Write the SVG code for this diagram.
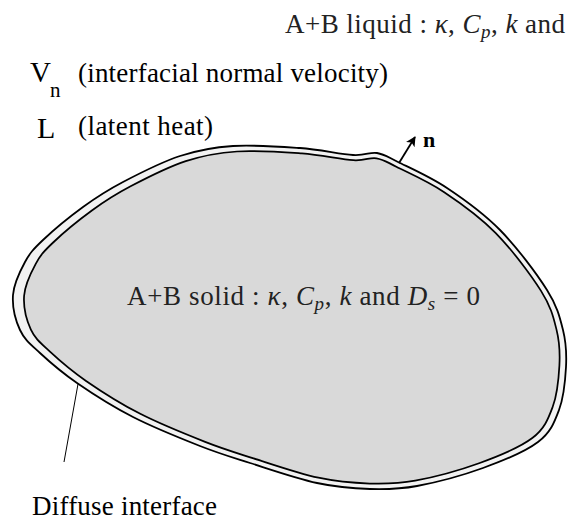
<svg xmlns="http://www.w3.org/2000/svg" xmlns:xlink="http://www.w3.org/1999/xlink" width="570" height="521" viewBox="0 0 570 521">
<style>
.band{fill:#f2f2f2;stroke:#000;stroke-width:1.8;}
.core{fill:#d9d9d9;stroke:#000;stroke-width:1.8;}
text{font-family:'Liberation Serif','Times New Roman',serif;}
.tex{fill:#222;font-size:27px;}
.times{fill:#000;}
.it{font-style:italic;}
.sub{font-style:italic;font-size:19px;}
.conn{stroke:#000;fill:none;}
</style>
<defs>
<path id="blob" d="M233,146 C253,144.7 280.5,146.7 300,148 C320,149.5 340.2,154.2 353,155 C365.8,155.8 369.5,151.8 377,153 C384.5,154.2 386.3,156.2 398,162 C409.7,167.8 430,176.7 447,188 C464,199.3 483.3,213 500,230 C516.7,247 536.5,273.3 547,290 C557.5,306.7 559.8,317.2 563,330 C566.2,342.8 566.7,353.7 566,367 C565.3,380.3 563.7,397.5 559,410 C554.3,422.5 550.7,432.3 538,442 C525.3,451.7 503.2,460.7 483,468 C462.8,475.3 435.8,482.5 417,486 C398.2,489.5 386.7,489.5 370,489 C353.3,488.5 337,487.3 317,483 C297,478.7 269.5,469.2 250,463 C230.5,456.8 219.5,453.7 200,446 C180.5,438.3 153.5,427.5 133,417 C112.5,406.5 92.5,393.7 77,383 C61.5,372.3 49.5,361.8 40,353 C30.5,344.2 24.5,339.7 20,330 C15.5,320.3 12.2,306.3 13,295 C13.8,283.7 20,271.2 25,262 C30,252.8 33.3,249.2 43,240 C52.7,230.8 69.7,216.7 83,207 C96.3,197.3 106.8,190.5 123,182 C139.2,173.5 161.7,162 180,156 C198.3,150 213,147.3 233,146 Z"/>
<marker id="ah" viewBox="0 0 10 10" refX="9" refY="5" markerWidth="10" markerHeight="10" markerUnits="userSpaceOnUse" orient="auto">
<path d="M0,0 L10,5 L0,10 L2.5,5 Z" fill="#000"/>
</marker>
</defs>
<g id="diffuse-interface">
<use xlink:href="#blob" class="band"/>
</g>
<g id="solid">
<use xlink:href="#blob" class="core" transform="translate(360 318) scale(0.968) translate(-360 -318)"/>
</g>
<g id="connectors">
<line class="conn" x1="399" y1="163" x2="415" y2="137" stroke-width="1.8" marker-end="url(#ah)"/>
<line class="conn" x1="78" y1="384" x2="64" y2="462" stroke-width="1"/>
</g>
<g id="liquid-label">
<text class="tex" x="285" y="33" textLength="280" lengthAdjust="spacing">A+B liquid : <tspan class="it">κ</tspan>, <tspan class="it">C</tspan><tspan class="sub" dy="5">p</tspan><tspan dy="-5">, </tspan><tspan class="it">k</tspan> and</text>
</g>
<g id="solid-label">
<text class="tex" x="127" y="305" textLength="353" lengthAdjust="spacing">A+B solid : <tspan class="it">κ</tspan>, <tspan class="it">C</tspan><tspan class="sub" dy="5">p</tspan><tspan dy="-5">, </tspan><tspan class="it">k</tspan> and <tspan class="it">D</tspan><tspan class="sub" dy="5">s</tspan><tspan dy="-5"> = 0</tspan></text>
</g>
<g id="vn-label">
<text class="times" x="30" y="82" font-size="29">V</text>
<text class="times" x="50" y="97" font-size="21">n</text>
<text class="times" x="78" y="82" font-size="27" textLength="310" lengthAdjust="spacing">(interfacial normal velocity)</text>
</g>
<g id="l-label">
<text class="times" x="37" y="138" font-size="30">L</text>
<text class="times" x="78" y="135" font-size="27" textLength="135" lengthAdjust="spacing">(latent heat)</text>
</g>
<g id="n-label">
<text class="times" x="423" y="147" font-size="22" font-weight="bold">n</text>
</g>
<g id="diffuse-label">
<text class="times" x="32" y="515" font-size="27" textLength="185" lengthAdjust="spacing">Diffuse interface</text>
</g>
</svg>
